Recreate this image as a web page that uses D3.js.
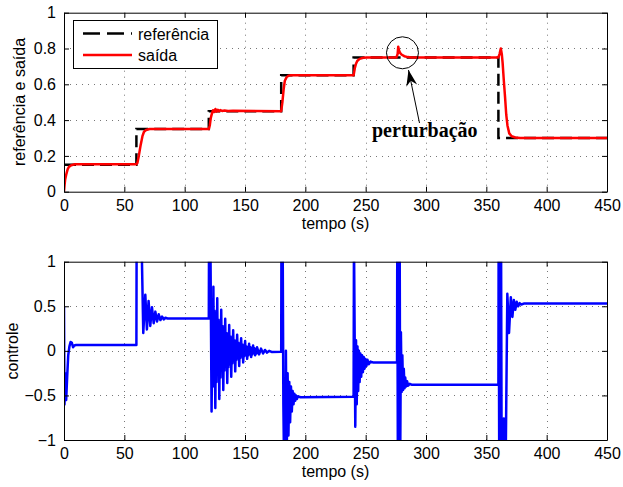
<!DOCTYPE html>
<html>
<head>
<meta charset="utf-8">
<script src="https://cdn.jsdelivr.net/npm/d3@7"></script>
<style>
body { margin: 0; background: #fff; }
text { font-family: "Liberation Sans", Arial, sans-serif; }
</style>
</head>
<body>
<script>
// tick labels
var xTicks = [0, 50, 100, 150, 200, 250, 300, 350, 400, 450];
var yTicksTop = [0, 0.2, 0.4, 0.6, 0.8, 1];
var yTicksBottom = [-1, -0.5, 0, 0.5, 1];

// reference: [tempo, valor] (step after)
var referencia = [[0, 0.15], [60, 0.35], [120, 0.45], [180, 0.65], [240, 0.75], [360, 0.30], [450, 0.30]];

// plant output
var saida = [
  [0, 0], [0.5, 0.04], [1, 0.07], [2, 0.1], [3, 0.125], [4, 0.138], [6, 0.148], [9, 0.153], [60, 0.153],
  [60.8, 0.16], [62, 0.2], [63.5, 0.26], [65, 0.31], [66.3, 0.335], [68, 0.345], [71, 0.35], [120, 0.35],
  [120.8, 0.37], [121.6, 0.41], [122.5, 0.435], [123.5, 0.455], [124.5, 0.445], [125.5, 0.462], [126.5, 0.447],
  [127.5, 0.458], [128.5, 0.449], [129.5, 0.456], [131, 0.451], [133, 0.454], [136, 0.451], [140, 0.452], [180, 0.45],
  [181, 0.5], [182, 0.57], [183, 0.62], [184.5, 0.64], [186, 0.648], [188, 0.65], [240, 0.65],
  [241, 0.69], [242, 0.715], [243, 0.73], [245, 0.742], [248, 0.748], [251, 0.75], [275.5, 0.75],
  [276.5, 0.77], [277, 0.81], [277.6, 0.79], [278.5, 0.775], [280, 0.765], [282, 0.757], [285, 0.752], [288, 0.75], [360, 0.75],
  [361, 0.77], [362, 0.8], [362.8, 0.77], [363.5, 0.72], [364.5, 0.62], [365.5, 0.53], [366.5, 0.43], [367.5, 0.37],
  [369, 0.326], [371, 0.31], [374, 0.303], [378, 0.3], [450, 0.3]
];

// control signal
var controle = [
  [0, 0.5], [0.4, -0.6], [1.2, -0.25], [1.8, -0.55], [2.6, -0.3], [3.5, -0.05], [4.5, 0.05], [5.5, 0.1], [6.5, 0.09],
  [7.5, 0.04], [8.5, 0.06], [10, 0.065], [60, 0.065],
  [60.2, 1.3], [64.2, 1.3], [65.7, 0.2], [67.4, 0.63], [68.7, 0.24], [70.1, 0.56], [71.5, 0.28], [72.9, 0.49], [74.3, 0.31],
  [75.7, 0.44], [77.1, 0.33], [78.5, 0.41], [79.9, 0.345], [81.3, 0.385], [82.7, 0.352], [84.1, 0.372], [86, 0.362], [90, 0.364], [120, 0.364],
  [120.2, 1.3], [121.3, 1.3], [122.3, -0.68], [123, 0.3], [123.4, -0.4], [123.8, 0.72], [124.3, -0.3], [124.8, 0.45], [125.4, -0.64],
  [125.9, 0.2], [126.4, -0.35], [127, 0.59], [127.5, -0.25], [128.1, 0.35], [128.7, -0.54], [129.2, 0.15], [129.7, -0.3],
  [130.3, 0.46], [130.8, -0.2], [131.4, 0.28], [132, -0.44], [132.5, 0.1], [133, -0.22], [133.6, 0.36], [134.1, -0.15],
  [134.7, 0.2], [135.3, -0.36], [135.8, 0.08], [136.3, -0.18], [136.9, 0.29], [137.4, -0.12], [138, 0.16], [138.6, -0.29],
  [139.1, 0.06], [139.6, -0.14], [140.2, 0.23], [140.7, -0.1], [141.3, 0.12], [141.9, -0.23], [142.4, 0.04], [142.9, -0.1],
  [143.5, 0.18], [144, -0.07], [144.6, 0.09], [145.2, -0.17], [145.7, 0.03], [146.2, -0.08], [146.8, 0.14], [147.3, -0.05],
  [147.9, 0.07], [148.5, -0.13], [149, 0.02], [149.5, -0.06], [150.1, 0.11], [150.6, -0.04], [151.2, 0.05], [151.8, -0.09],
  [152.3, 0.01], [152.8, -0.05], [153.4, 0.08], [153.9, -0.03], [154.5, 0.04], [155.1, -0.07], [155.6, 0.0], [156.1, -0.04],
  [156.7, 0.06], [157.3, -0.02], [157.8, 0.03], [158.4, -0.05], [159, 0.0], [159.5, -0.03], [160, 0.04], [161.7, -0.04],
  [163.3, 0.025], [165, -0.03], [166.6, 0.01], [168.3, -0.02], [170, 0], [172, -0.012], [180, -0.01],
  [180.2, 1.3], [181.2, 1.3], [181.8, -0.6], [182.4, -1.3], [183.4, -1.3], [183.9, 0.0], [184.5, -1.3], [185.3, -0.25], [186, -0.95],
  [186.7, -0.35], [187.4, -0.8], [188.1, -0.4], [188.8, -0.68], [189.5, -0.45], [190.2, -0.6], [190.9, -0.48], [191.6, -0.56],
  [192.3, -0.5], [193, -0.54], [194, -0.51], [196, -0.52], [240, -0.515],
  [240.3, 1.3], [241.4, -0.85], [242, 0.12], [242.6, -0.6], [243.2, 0.05], [243.8, -0.45], [244.4, 0.0], [245, -0.35], [245.6, -0.03],
  [246.3, -0.29], [247, -0.05], [247.7, -0.24], [248.4, -0.07], [249.1, -0.2], [249.8, -0.09], [250.6, -0.17], [251.5, -0.1],
  [252.5, -0.15], [254, -0.12], [256, -0.13], [276, -0.13],
  [276.2, 1.3], [276.7, -1.3], [277.2, 1.3], [277.7, -1.3], [278.2, 1.3], [278.6, -1.3], [279.2, 0.21], [279.8, -0.46], [280.4, -0.05],
  [281, -0.44], [281.6, -0.2], [282.2, -0.42], [282.8, -0.3], [283.5, -0.4], [284.3, -0.34], [285.2, -0.39], [286.5, -0.37], [288, -0.38], [360, -0.38],
  [360.2, 1.3], [360.7, -1.3], [361.2, 1.3], [361.7, -1.3], [362.2, 1.3], [362.7, -1.3], [363.8, -1.3], [364.5, -0.76], [365.2, -1.3],
  [366, -1.3], [367.4, 0.64], [368.8, 0.2], [370.3, 0.6], [371.6, 0.38], [372.8, 0.57], [374, 0.46], [375.2, 0.55], [376.4, 0.5],
  [377.6, 0.535], [379, 0.52], [381, 0.53], [450, 0.53]
];

var w = 623, h = 487;
var left = 64, right = 607;

var svg = d3.select("body").append("svg")
  .attr("width", w)
  .attr("height", h);

var x = d3.scaleLinear().domain([0, 450]).range([left, right]);
var yTop = d3.scaleLinear().domain([0, 1]).range([191.7, 12.7]);
var yBot = d3.scaleLinear().domain([-1, 1]).range([440, 261.7]);
var fmt = d3.format("~g");

function panel(y, yTicks, id) {
  var y0 = y.range()[0], y1 = y.range()[1];

  svg.append("clipPath").attr("id", id)
    .append("rect")
    .attr("x", left).attr("y", y1)
    .attr("width", right - left).attr("height", y0 - y1);

  // dotted grid
  var grid = svg.append("g").attr("stroke", "#777").attr("stroke-width", 1).attr("stroke-dasharray", "1,5");
  grid.selectAll(".gx").data(xTicks.slice(1, -1)).enter().append("line")
    .attr("x1", function(d) { return Math.round(x(d)) + 0.5; })
    .attr("x2", function(d) { return Math.round(x(d)) + 0.5; })
    .attr("y1", y0).attr("y2", y1);
  grid.selectAll(".gy").data(yTicks.slice(1, -1)).enter().append("line")
    .attr("y1", function(d) { return Math.round(y(d)) + 0.5; })
    .attr("y2", function(d) { return Math.round(y(d)) + 0.5; })
    .attr("x1", left).attr("x2", right);
}

function axes(y, yTicks) {
  var y0 = y.range()[0], y1 = y.range()[1];
  var gx = svg.append("g").attr("transform", "translate(0," + y0 + ")")
    .call(d3.axisBottom(x).tickValues(xTicks).tickSize(-5).tickSizeOuter(0).tickPadding(8).tickFormat(fmt));
  var gxt = svg.append("g").attr("transform", "translate(0," + y1 + ")")
    .call(d3.axisTop(x).tickValues(xTicks).tickSize(-5).tickSizeOuter(0).tickFormat(""));
  var gy = svg.append("g").attr("transform", "translate(" + left + ",0)")
    .call(d3.axisLeft(y).tickValues(yTicks).tickSize(-5).tickSizeOuter(0).tickPadding(8).tickFormat(fmt));
  var gyr = svg.append("g").attr("transform", "translate(" + right + ",0)")
    .call(d3.axisRight(y).tickValues(yTicks).tickSize(-5).tickSizeOuter(0).tickFormat(""));
  [gx, gxt, gy, gyr].forEach(function(g) {
    g.selectAll("text").attr("font-size", "16px").attr("fill", "#000")
      .style("font-family", "'Liberation Sans', Arial, sans-serif");
    g.selectAll("line, path").attr("stroke", "#000").attr("stroke-width", 1);
  });
}

panel(yTop, yTicksTop, "clipTop");
panel(yBot, yTicksBottom, "clipBot");

var lineTop = d3.line().x(function(d) { return x(d[0]); }).y(function(d) { return yTop(d[1]); });
var lineBot = d3.line().x(function(d) { return x(d[0]); }).y(function(d) { return yBot(d[1]); });

svg.append("path")
  .datum(referencia)
  .attr("clip-path", "url(#clipTop)")
  .attr("d", lineTop.curve(d3.curveStepAfter))
  .attr("fill", "none")
  .attr("stroke", "#000")
  .attr("stroke-width", 2.5)
  .attr("stroke-dasharray", "12,6");

lineTop.curve(d3.curveLinear);
svg.append("path")
  .datum(saida)
  .attr("clip-path", "url(#clipTop)")
  .attr("d", lineTop)
  .attr("fill", "none")
  .attr("stroke", "#ff0000")
  .attr("stroke-width", 2.5)
  .attr("stroke-linejoin", "round");

svg.append("path")
  .datum(controle)
  .attr("clip-path", "url(#clipBot)")
  .attr("d", lineBot)
  .attr("fill", "none")
  .attr("stroke", "#0000ff")
  .attr("stroke-width", 2.5)
  .attr("stroke-linejoin", "round");

axes(yTop, yTicksTop);
axes(yBot, yTicksBottom);

// axis titles
svg.append("text").attr("x", (left + right) / 2).attr("y", 229).attr("text-anchor", "middle")
  .attr("font-size", "16px").text("tempo (s)");
svg.append("text").attr("x", (left + right) / 2).attr("y", 477).attr("text-anchor", "middle")
  .attr("font-size", "16px").text("tempo (s)");
svg.append("text").attr("transform", "translate(25,102) rotate(-90)").attr("text-anchor", "middle")
  .attr("font-size", "16px").text("referência e saída");
svg.append("text").attr("transform", "translate(18,351) rotate(-90)").attr("text-anchor", "middle")
  .attr("font-size", "16px").text("controle");

// legend
var leg = svg.append("g");
leg.append("rect").attr("x", 73.5).attr("y", 20.5).attr("width", 144).attr("height", 48)
  .attr("fill", "#fff").attr("stroke", "#000").attr("stroke-width", 1);
leg.append("line").attr("x1", 83).attr("x2", 132).attr("y1", 33.5).attr("y2", 33.5)
  .attr("stroke", "#000").attr("stroke-width", 2.5).attr("stroke-dasharray", "17,7");
leg.append("line").attr("x1", 83).attr("x2", 132).attr("y1", 55).attr("y2", 55)
  .attr("stroke", "#ff0000").attr("stroke-width", 2.5);
leg.append("text").attr("x", 138).attr("y", 39.5).attr("font-size", "16px").text("referência");
leg.append("text").attr("x", 138).attr("y", 61).attr("font-size", "16px").text("saída");

// annotation
svg.append("circle").attr("cx", x(280.5)).attr("cy", yTop(0.776)).attr("r", 16)
  .attr("fill", "none").attr("stroke", "#000").attr("stroke-width", 1);

svg.append("defs").append("marker")
  .attr("id", "arrow").attr("markerUnits", "userSpaceOnUse")
  .attr("markerWidth", 20).attr("markerHeight", 20)
  .attr("refX", 0).attr("refY", 0).attr("viewBox", "-18 -10 20 20")
  .attr("orient", "auto")
  .append("path").attr("d", "M0,0 L-16,-5.5 L-11,0 L-16,5.5 Z").attr("fill", "#000");

svg.append("line")
  .attr("x1", 419.5).attr("y1", 123).attr("x2", 408.5).attr("y2", 70)
  .attr("stroke", "#000").attr("stroke-width", 1)
  .attr("marker-end", "url(#arrow)");

svg.append("text").attr("x", 372).attr("y", 136.7)
  .style("font-family", "'Liberation Serif', 'Times New Roman', serif")
  .attr("font-weight", "bold").attr("font-size", "20px").text("perturbação");
</script>
</body>
</html>
